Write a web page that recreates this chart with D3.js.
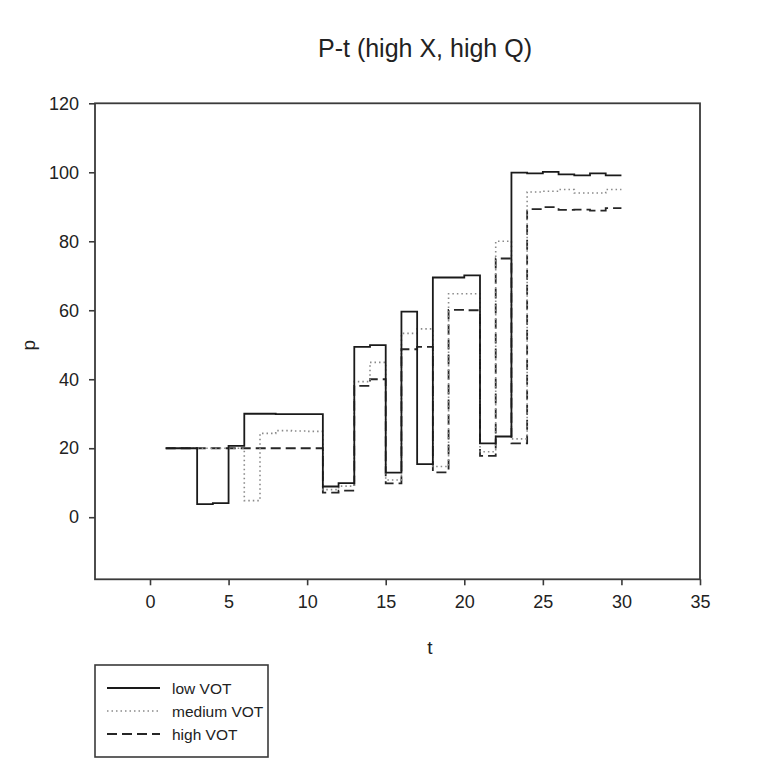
<!DOCTYPE html>
<html>
<head>
<meta charset="utf-8">
<script src="https://cdn.jsdelivr.net/npm/d3@7"></script>
<style>
  body { margin: 0; background: #fff; }
  text { font-family: Arial, "Liberation Sans", sans-serif; fill: #222; }
</style>
</head>
<body>
<svg id="chart" width="769" height="758"></svg>
<script>
// time steps 1..30, each value holds until the next step
var tSteps = d3.range(1, 31);

var lowVOT = [20, 20, 3.8, 4.1, 20.7, 30, 30, 29.9, 29.9, 29.9,
  8.9, 9.9, 49.4, 49.9, 12.9, 59.6, 15.4, 69.5, 69.5, 70.1,
  21.4, 23.4, 99.9, 99.7, 100.1, 99.4, 99.1, 99.7, 99.1, 99.1];

var mediumVOT = [20, 20, 20, 20, 20, 4.8, 24.3, 25.1, 25, 24.9,
  8, 9, 39.3, 44.9, 10.8, 53.3, 54.6, 14.7, 64.8, 64.8,
  19, 80, 22.7, 94.3, 94.5, 95, 94, 94, 95, 95];

var highVOT = [20, 20, 20, 20, 20, 20, 20, 20, 20, 20,
  7.1, 7.7, 38.1, 40, 9.8, 48.7, 49.4, 13, 60.1, 60,
  17.8, 75, 21.4, 89.3, 89.9, 89.1, 89.2, 88.9, 89.6, 89.6];

var xTicks = [0, 5, 10, 15, 20, 25, 30, 35];
var yTicks = [0, 20, 40, 60, 80, 100, 120];
var seriesNames = ["low VOT", "medium VOT", "high VOT"];

var svg = d3.select("#chart");

// plot frame (note: "top" is a reserved window global, so use pTop)
var pLeft = 95, pRight = 700, pTop = 103.3, pBottom = 579.3;

var x = d3.scaleLinear().domain([-3.5, 35]).range([pLeft, pRight]);
var y = d3.scaleLinear().domain([-18, 120]).range([pBottom, pTop]);

// line looks for the 3 series
var styles = [
  {stroke: "#1a1a1a", width: 1.8, dash: null},
  {stroke: "#8a8a8a", width: 1.6, dash: "1.5,3"},
  {stroke: "#262626", width: 1.8, dash: "10,5"}
];
var allSeries = [lowVOT, mediumVOT, highVOT];

// title, centred on the tick range
svg.append("text")
  .attr("x", x(17.5))
  .attr("y", 57)
  .attr("text-anchor", "middle")
  .style("font-size", "25px")
  .text("P-t (high X, high Q)");

// axes (ticks outward)
svg.append("g")
  .attr("transform", "translate(0," + pBottom + ")")
  .call(d3.axisBottom(x).tickValues(xTicks).tickSize(6).tickPadding(10).tickSizeOuter(0))
  .call(function(g) { g.select(".domain").remove(); });

svg.append("g")
  .attr("transform", "translate(" + pLeft + ",0)")
  .call(d3.axisLeft(y).tickValues(yTicks).tickSize(6).tickPadding(10).tickSizeOuter(0))
  .call(function(g) { g.select(".domain").remove(); });

svg.selectAll(".tick line").attr("stroke", "#3a3a3a").attr("stroke-width", 1.6);
svg.selectAll(".tick text")
  .style("font-size", "18px")
  .style("font-family", "Arial, 'Liberation Sans', sans-serif")
  .attr("fill", "#1e1e1e");

// frame
svg.append("rect")
  .attr("x", pLeft).attr("y", pTop)
  .attr("width", pRight - pLeft).attr("height", pBottom - pTop)
  .attr("fill", "none")
  .attr("stroke", "#3a3a3a")
  .attr("stroke-width", 1.8);

// step lines
var line = d3.line()
  .x(function(d, i) { return x(tSteps[i]); })
  .y(function(d) { return y(d); })
  .curve(d3.curveStepAfter);

// draw high first so the solid line sits on top
for (var k = allSeries.length - 1; k >= 0; k--) {
  svg.append("path")
    .attr("d", line(allSeries[k]))
    .attr("fill", "none")
    .attr("stroke", styles[k].stroke)
    .attr("stroke-width", styles[k].width)
    .attr("stroke-dasharray", styles[k].dash);
}

// axis titles
svg.append("text")
  .attr("x", x(17.5) + 5)
  .attr("y", 654)
  .attr("text-anchor", "middle")
  .style("font-size", "19px")
  .text("t");

svg.append("text")
  .attr("transform", "translate(35," + ((pTop + pBottom) / 2 + 4) + ") rotate(-90)")
  .attr("text-anchor", "middle")
  .style("font-size", "19px")
  .text("p");

// legend box
var lg = svg.append("g").attr("transform", "translate(95,665)");
lg.append("rect")
  .attr("width", 173).attr("height", 92)
  .attr("fill", "none")
  .attr("stroke", "#3a3a3a")
  .attr("stroke-width", 1.6);

seriesNames.forEach(function(name, i) {
  var ly = 23 + i * 23;
  lg.append("line")
    .attr("x1", 12).attr("x2", 65)
    .attr("y1", ly).attr("y2", ly)
    .attr("stroke", styles[i].stroke)
    .attr("stroke-width", styles[i].width)
    .attr("stroke-dasharray", styles[i].dash);
  lg.append("text")
    .attr("x", 77)
    .attr("y", ly + 5.5)
    .style("font-size", "15.5px")
    .text(name);
});
</script>
</body>
</html>
